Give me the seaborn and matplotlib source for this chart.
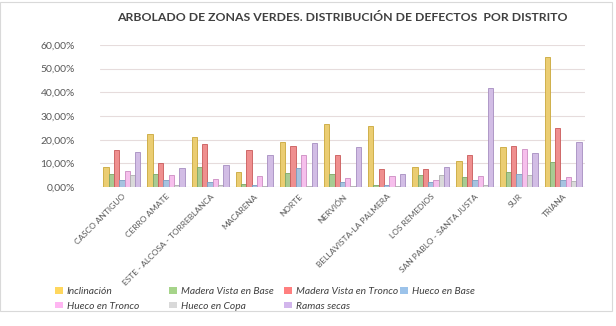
import numpy as np
import pandas as pd
import matplotlib
matplotlib.use("Agg")
import matplotlib.pyplot as plt
import seaborn as sns
from matplotlib.patches import Rectangle, Patch
from matplotlib.ticker import FuncFormatter

districts = ["CASCO ANTIGUO", "CERRO AMATE", "ESTE - ALCOSA - TORREBLANCA", "MACARENA",
             "NORTE", "NERVIÓN", "BELLAVISTA-LA PALMERA", "LOS REMEDIOS",
             "SAN PABLO - SANTA JUSTA", "SUR", "TRIANA"]
series = ["Inclinación", "Madera Vista en Base", "Madera Vista en Tronco", "Hueco en Base",
          "Hueco en Tronco", "Hueco en Copa", "Ramas secas"]

inclinacion = [8.5, 22.5, 21.0, 6.5, 19.0, 26.5, 26.0, 8.5, 11.0, 16.9, 55.0]
madera_base = [5.5, 5.5, 8.5, 1.5, 6.0, 5.5, 1.0, 5.0, 4.3, 6.2, 10.4]
madera_tronco = [15.5, 10.0, 18.0, 15.5, 17.5, 13.5, 7.5, 7.5, 13.5, 17.5, 25.0]
hueco_base = [3.0, 3.0, 2.0, 1.0, 8.0, 2.0, 1.0, 2.0, 3.0, 5.5, 3.0]
hueco_tronco = [7.0, 5.0, 3.5, 4.5, 13.5, 4.0, 4.5, 3.0, 4.9, 15.9, 4.3]
hueco_copa = [5.0, 1.0, 1.0, 0.5, 0.5, 0.5, 0.5, 5.0, 0.8, 5.0, 2.4]
ramas_secas = [15.0, 8.0, 9.5, 13.5, 18.5, 17.0, 5.5, 8.5, 41.9, 14.2, 19.0]

colors = ["#FFD75E", "#A6D48A", "#FF7F7F", "#9CC3EA", "#FFB6F2", "#D9D9D9", "#D2B6EC"]
edges = ["#C9A73A", "#7FA867", "#C95A5A", "#7A9CC0", "#CC8CC2", "#AFAFAF", "#A68DC0"]

vals = [inclinacion, madera_base, madera_tronco, hueco_base, hueco_tronco, hueco_copa, ramas_secas]
rows = []
for s, v in zip(series, vals):
    for d, x in zip(districts, v):
        rows.append({"Distrito": d, "Defecto": s, "Valor": x / 100.0})
df = pd.DataFrame(rows)

sns.set_style("white")
plt.rcParams['font.family'] = ['Lato', 'DejaVu Sans']

fig = plt.figure(figsize=(6.16, 3.26), dpi=100)
ax = fig.add_axes([0.162, 0.426, 0.788, 0.436])

sns.barplot(data=df, x="Distrito", y="Valor", hue="Defecto", order=districts,
            hue_order=series, palette=colors, width=0.84, ax=ax, legend=False,
            edgecolor="none")
for i, cont in enumerate(ax.containers):
    for b in cont:
        b.set_edgecolor(edges[i])
        b.set_linewidth(0.6)

ax.set_ylim(0, 0.6)
ax.set_yticks(np.arange(0, 0.61, 0.1))
ax.yaxis.set_major_formatter(FuncFormatter(lambda v, p: f"{v*100:.2f}%".replace(".", ",")))
ax.grid(axis="y", color="#E6DCDC", linewidth=0.8)
ax.set_axisbelow(True)
for sp in ax.spines.values():
    sp.set_visible(False)
ax.axhline(0, color="#D9D9D9", linewidth=0.8, zorder=0)
ax.set_xlabel("")
ax.set_ylabel("")
ax.set_xlim(-0.5, len(districts) - 0.5)
ax.tick_params(axis="y", labelsize=7.5, colors="#595959", length=0, pad=18)
ax.tick_params(axis="x", length=0, pad=4)
ax.set_xticks(range(len(districts)))
ax.set_xticklabels(districts, rotation=45, ha="right", rotation_mode="anchor",
                   fontsize=6, color="#595959")

fig.text(0.555, 0.945, "ARBOLADO DE ZONAS VERDES. DISTRIBUCIÓN DE DEFECTOS  POR DISTRITO",
         ha="center", va="center", fontsize=8.8, fontweight="bold", color="#404040")

order = [[0, 4], [1, 5], [2, 6], [3]]
xs = [55, 169, 284, 400]
for col, x in zip(order, xs):
    handles = [Patch(facecolor=colors[i], edgecolor="none") for i in col]
    labels = [series[i] for i in col]
    fig.legend(handles, labels, loc="upper left", bbox_to_anchor=(x / 616, 1 - 287 / 326),
               frameon=False, prop={"style": "italic", "size": 7.35}, labelcolor="#404040",
               handlelength=0.75, handleheight=0.6, handletextpad=0.4, labelspacing=0.55,
               borderaxespad=0, borderpad=0)

fig.add_artist(Rectangle((0.0, 1 - 311 / 326), 612 / 616, 309 / 326,
                         transform=fig.transFigure, fill=False, edgecolor="#D9D9D9",
                         linewidth=0.8))

fig.savefig("out.png", dpi=100)
